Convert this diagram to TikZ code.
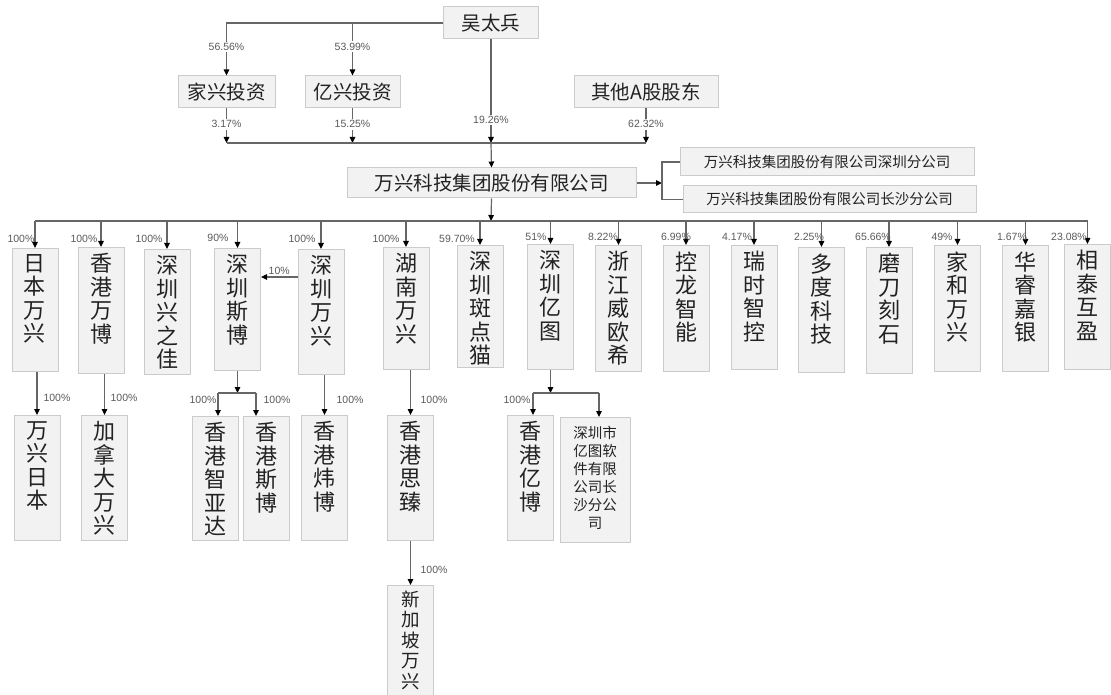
\documentclass[tikz,border=0pt]{standalone}
\usepackage{fontspec}
\setmainfont{Noto Sans CJK SC}
\newfontfamily\pctfont{Liberation Sans}
\usetikzlibrary{arrows.meta}

\definecolor{boxfill}{HTML}{F2F2F2}
\definecolor{boxline}{HTML}{CBCBCB}
\definecolor{linegray}{HTML}{666666}
\definecolor{pctgray}{HTML}{5A5A5A}
\definecolor{txt}{HTML}{222222}

% column text, one character per line
\newcommand{\vt}[2]{\parbox[c][#1pt][t]{46pt}{\vspace*{6pt}\centering #2}}

\tikzset{
  box/.style={draw=boxline, fill=boxfill, line width=1pt, inner sep=0pt, text=txt},
  hbox/.style={box, font=\fontsize{19.5}{22}\selectfont, minimum height=32pt},
  fbox/.style={box, font=\fontsize{14.5}{16}\selectfont},
  vbox/.style={box, font=\fontsize{22}{23.5}\selectfont, anchor=north},
  pct/.style={font=\pctfont\fontsize{10.5}{12}\selectfont, text=pctgray, inner sep=1.5pt},
  arr/.style={draw=linegray, line width=1.2pt, -{Triangle[length=6pt,width=5.5pt,black]}},
  ln/.style={draw=linegray, line width=1.2pt}
}

\begin{document}
\begin{tikzpicture}[x=1pt,y=-1pt]
  \useasboundingbox (0,0) rectangle (1111,695);

  % shareholders
  \node[hbox, minimum width=95pt] (wtb) at (491,23) {吴太兵};
  \node[hbox, minimum width=97pt] (jxtz) at (226.5,92) {家兴投资};
  \node[hbox, minimum width=95pt] (yxtz) at (352.5,92) {亿兴投资};
  \node[hbox, minimum width=144pt] (qtgd) at (646,92) {其他A股股东};

  % company and branches
  \node[hbox, minimum width=289pt, minimum height=30pt] (wx) at (491.5,183) {万兴科技集团股份有限公司};
  \node[fbox, minimum width=294pt, minimum height=28pt] (fgsz) at (827,162) {万兴科技集团股份有限公司深圳分公司};
  \node[fbox, minimum width=293pt, minimum height=27pt] (fgcs) at (829.5,199.5) {万兴科技集团股份有限公司长沙分公司};

  \coordinate (bus1) at (491,143);
  \coordinate (fork) at (662,183);
  \coordinate (bus2) at (491,221);

  \draw[arr] (wtb.west) -| node[pct, fill=white, pos=0.73] (l1) {56.56\%} (jxtz.north);
  \draw[arr] (wtb.west -| yxtz.north) -- node[pct, fill=white, pos=0.45] (l2) {53.99\%} (yxtz.north);
  \draw[arr] (wtb.south) -- node[pct, fill=white, pos=0.78] (l3) {19.26\%} (bus1);
  \draw[arr] (jxtz.south) -- node[pct, fill=white, pos=0.46] (l4) {3.17\%} (jxtz.south |- bus1);
  \draw[arr] (yxtz.south) -- node[pct, fill=white, pos=0.46] (l5) {15.25\%} (yxtz.south |- bus1);
  \draw[arr] (qtgd.south) -- node[pct, fill=white, pos=0.46] (l6) {62.32\%} (qtgd.south |- bus1);
  \draw[ln] (jxtz.south |- bus1) -- (qtgd.south |- bus1);
  \draw[arr] (bus1) -- (wx.north);
  \draw[arr] (wx.east) -- (fork);
  \draw[ln] (fgsz.west) -| (fork) |- (fgcs.west);
  \draw[arr] (wx.south) -- (bus2);

  % subsidiaries
  \node[vbox] (rbwx) at (35,248) {\vt{123}{日\\本\\万\\兴}};
  \node[vbox] (xgwb) at (101,247) {\vt{126}{香\\港\\万\\博}};
  \node[vbox] (szxzj) at (167,249) {\vt{125}{深\\圳\\兴\\之\\佳}};
  \node[vbox] (szsb) at (237.5,248) {\vt{122}{深\\圳\\斯\\博}};
  \node[vbox] (szwx) at (321,249) {\vt{125}{深\\圳\\万\\兴}};
  \node[vbox] (hnwx) at (406,247) {\vt{122}{湖\\南\\万\\兴}};
  \node[vbox] (szbdm) at (480,245) {\vt{122}{深\\圳\\斑\\点\\猫}};
  \node[vbox] (szyt) at (550.5,244) {\vt{125}{深\\圳\\亿\\图}};
  \node[vbox] (zjwox) at (618.5,245) {\vt{126}{浙\\江\\威\\欧\\希}};
  \node[vbox] (klzn) at (686,245) {\vt{126}{控\\龙\\智\\能}};
  \node[vbox] (rszk) at (754,245) {\vt{124}{瑞\\时\\智\\控}};
  \node[vbox] (ddkj) at (821.5,247) {\vt{125}{多\\度\\科\\技}};
  \node[vbox] (mdks) at (889,247) {\vt{126}{磨\\刀\\刻\\石}};
  \node[vbox] (jhwx) at (957.5,245) {\vt{126}{家\\和\\万\\兴}};
  \node[vbox] (hrjy) at (1025.5,245) {\vt{126}{华\\睿\\嘉\\银}};
  \node[vbox] (xthy) at (1087.5,244) {\vt{125}{相\\泰\\互\\盈}};

  \draw[ln] (rbwx.north |- bus2) -- (xthy.north |- bus2);
  \draw[arr] (rbwx.north |- bus2) -- (rbwx.north);
  \draw[arr] (xgwb.north |- bus2) -- (xgwb.north);
  \draw[arr] (szxzj.north |- bus2) -- (szxzj.north);
  \draw[arr] (szsb.north |- bus2) -- (szsb.north);
  \draw[arr] (szwx.north |- bus2) -- (szwx.north);
  \draw[arr] (hnwx.north |- bus2) -- (hnwx.north);
  \draw[arr] (szbdm.north |- bus2) -- (szbdm.north);
  \draw[arr] (szyt.north |- bus2) -- (szyt.north);
  \draw[arr] (zjwox.north |- bus2) -- (zjwox.north);
  \draw[arr] (klzn.north |- bus2) -- (klzn.north);
  \draw[arr] (rszk.north |- bus2) -- (rszk.north);
  \draw[arr] (ddkj.north |- bus2) -- (ddkj.north);
  \draw[arr] (mdks.north |- bus2) -- (mdks.north);
  \draw[arr] (jhwx.north |- bus2) -- (jhwx.north);
  \draw[arr] (hrjy.north |- bus2) -- (hrjy.north);
  \draw[arr] (xthy.north |- bus2) -- (xthy.north);

  \node[pct] (p1) at (21,239) {100\%};
  \node[pct] (p2) at (84,239) {100\%};
  \node[pct] (p3) at (149,239) {100\%};
  \node[pct] (p4) at (218,238) {90\%};
  \node[pct] (p5) at (302,239) {100\%};
  \node[pct] (p6) at (386,239) {100\%};
  \node[pct] (p7) at (457,239) {59.70\%};
  \node[pct] (p8) at (536,237) {51\%};
  \node[pct] (p9) at (603,237) {8.22\%};
  \node[pct] (p10) at (676,237) {6.99\%};
  \node[pct] (p11) at (737,237) {4.17\%};
  \node[pct] (p12) at (809,237) {2.25\%};
  \node[pct] (p13) at (873,237) {65.66\%};
  \node[pct] (p14) at (942,237) {49\%};
  \node[pct] (p15) at (1012,237) {1.67\%};
  \node[pct] (p16) at (1069,237) {23.08\%};

  % 10% between siblings
  \coordinate (ten) at ([yshift=-28pt]szwx.north west);
  \draw[arr] (ten) -- node[pct, above=0pt] (p17) {10\%} (ten -| szsb.east);

  % second level
  \node[vbox] (wxrb) at (37,415) {\vt{125}{万\\兴\\日\\本}};
  \node[vbox] (jndwx) at (104.5,415) {\vt{125}{加\\拿\\大\\万\\兴}};
  \node[vbox] (xgzyd) at (215.5,416) {\vt{124}{香\\港\\智\\亚\\达}};
  \node[vbox] (xgsb) at (266.5,416) {\vt{124}{香\\港\\斯\\博}};
  \node[vbox] (xgweib) at (324.5,415) {\vt{125}{香\\港\\炜\\博}};
  \node[vbox] (xgsz) at (410.5,415) {\vt{125}{香\\港\\思\\臻}};
  \node[vbox, font=\fontsize{18.5}{20.5}\selectfont] (xjpwx) at (410.5,585)
    {\parbox[c][125pt][t]{46pt}{\vspace*{5pt}\centering 新\\加\\坡\\万\\兴}};
  \node[vbox] (xgyb) at (530,415) {\vt{125}{香\\港\\亿\\博}};
  \node[box, anchor=north, font=\fontsize{14.5}{18}\selectfont] (ytcs) at (595,417)
    {\parbox[c][125pt][t]{70pt}{\vspace*{9pt}\centering 深圳市\\亿图软\\件有限\\公司长\\沙分公\\司}};

  \draw[arr] (wxrb.north |- rbwx.south) -- (wxrb.north);
  \draw[arr] (jndwx.north |- xgwb.south) -- (jndwx.north);
  \draw[arr] (xgweib.north |- szwx.south) -- (xgweib.north);
  \draw[arr] (xgsz.north |- hnwx.south) -- (xgsz.north);
  \draw[arr] (xgsz.south) -- (xjpwx.north);

  \coordinate (sbl) at (218,393);
  \coordinate (sbr) at (256,393);
  \draw[arr] (szsb.south) -- (szsb.south |- sbl);
  \draw[ln] (sbl) -- (sbr);
  \draw[arr] (sbl) -- (sbl |- xgzyd.north);
  \draw[arr] (sbr) -- (sbr |- xgsb.north);

  \coordinate (ytl) at (533,393);
  \coordinate (ytr) at (599,393);
  \draw[arr] (szyt.south) -- (szyt.south |- ytl);
  \draw[ln] (ytl) -- (ytr);
  \draw[arr] (ytl) -- (ytl |- xgyb.north);
  \draw[arr] (ytr) -- (ytr |- ytcs.north);

  \node[pct] (q1) at (57,398) {100\%};
  \node[pct] (q2) at (124,398) {100\%};
  \node[pct] (q3) at (203,400) {100\%};
  \node[pct] (q4) at (277,400) {100\%};
  \node[pct] (q5) at (350,400) {100\%};
  \node[pct] (q6) at (434,400) {100\%};
  \node[pct] (q7) at (517,400) {100\%};
  \node[pct] (q8) at (434,570) {100\%};
\end{tikzpicture}
\end{document}
